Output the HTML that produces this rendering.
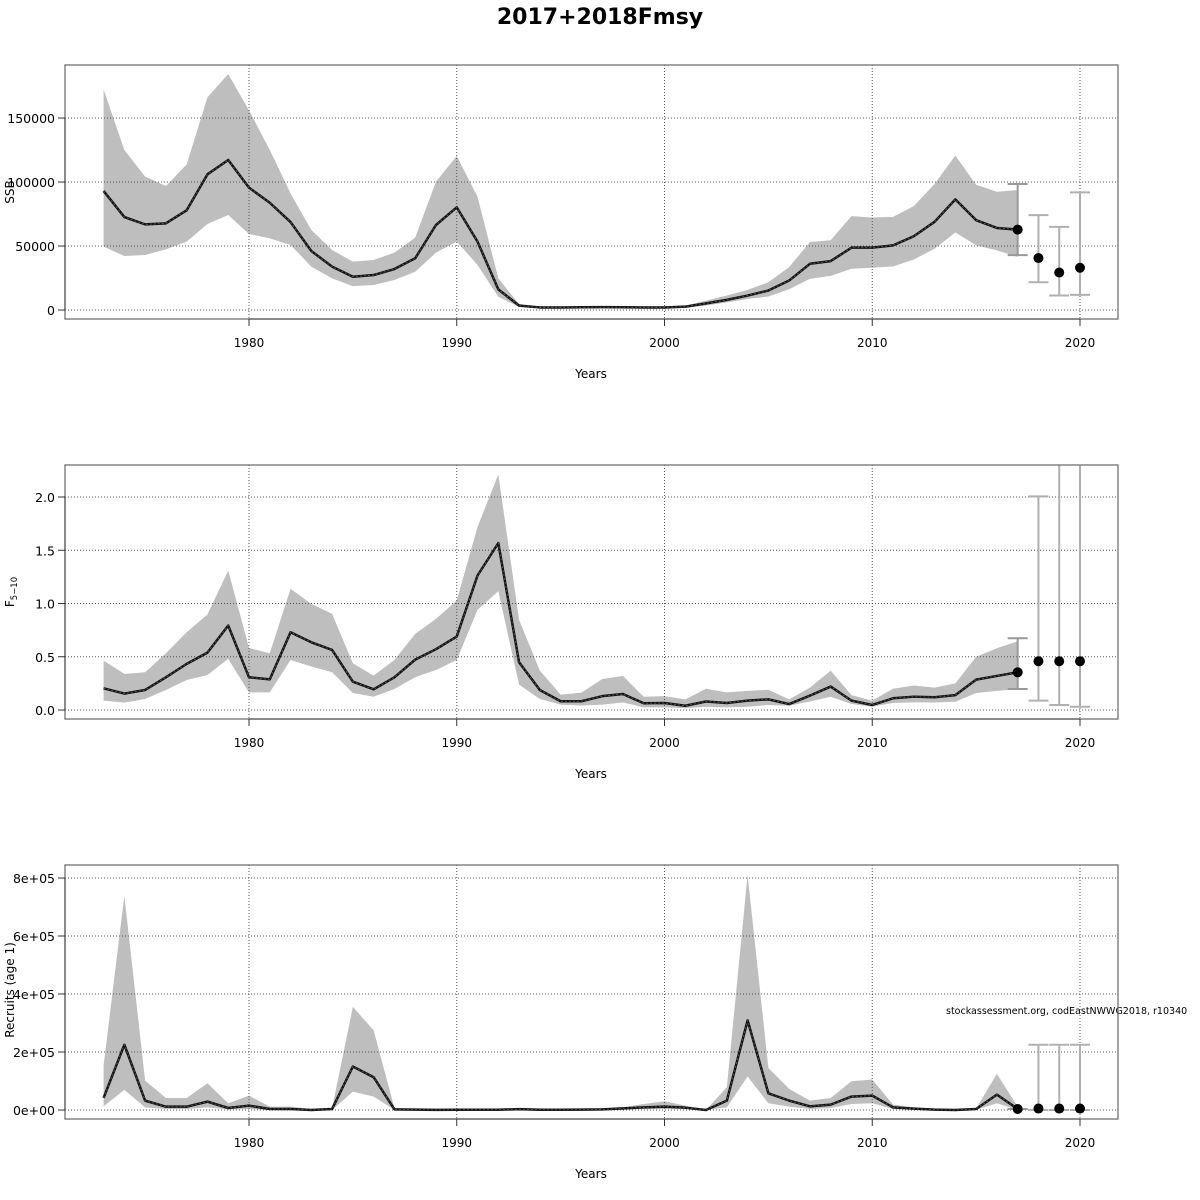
<!DOCTYPE html>
<html><head><meta charset="utf-8"><style>
html,body{margin:0;padding:0;background:#fff;}
svg{display:block;font-family:"DejaVu Sans","Liberation Sans",sans-serif;}
</style></head><body>
<svg id="chart" width="1200" height="1200" xmlns="http://www.w3.org/2000/svg">
<text x="600" y="24" text-anchor="middle" font-size="22" font-weight="bold">2017+2018Fmsy</text>
<text x="946" y="1014" font-size="9.5">stockassessment.org, codEastNWWG2018, r10340</text>
</svg>
<script>
const years = [];
for (let y = 1973; y <= 2017; y++) years.push(y);
const projYears = [2017, 2018, 2019, 2020];
const xTicks = [1980, 1990, 2000, 2010, 2020];

const ssbMean = [93000,72600,66900,67700,77900,106000,117200,95600,83800,68700,46100,33900,26000,27300,32000,40400,66400,80200,53400,16100,3400,2000,2000,2100,2200,2100,2000,2000,2600,5200,7900,11300,15200,23000,36100,38200,48700,48700,50500,57600,68900,86400,70200,64100,62800];
const ssbHigh = [172400,125000,104200,96900,113800,166100,184400,156000,125000,91100,62500,46900,37800,39100,44800,56500,100300,120300,88500,24700,4700,2800,2800,2900,3000,2900,2800,2800,3400,7300,11300,15700,21700,33500,53100,54500,73300,72300,72800,81200,98400,120700,97900,92400,93700];
const ssbLow = [49500,42200,43000,47400,53400,67200,74200,59400,56000,50800,33900,24700,18700,19500,23400,29900,44800,53400,35200,10400,2400,1400,1400,1500,1600,1500,1400,1400,1600,3400,6000,8600,10500,16200,24300,26700,32200,33000,34000,39500,47900,60500,50500,46600,41400];
const ssbProj = [62800,40600,29300,33000];
const ssbProjHigh = [98400,74100,64900,91900];
const ssbProjLow = [42900,21700,11300,11800];
const ssbTicks = [0,50000,100000,150000];

const fMean = [0.204,0.154,0.188,0.307,0.433,0.539,0.793,0.307,0.288,0.730,0.636,0.564,0.266,0.194,0.307,0.473,0.571,0.690,1.263,1.567,0.448,0.188,0.082,0.082,0.13,0.15,0.063,0.066,0.04,0.08,0.066,0.088,0.10,0.056,0.135,0.22,0.088,0.047,0.11,0.125,0.12,0.14,0.285,0.32,0.354];
const fHigh = [0.464,0.339,0.354,0.533,0.730,0.897,1.310,0.583,0.533,1.138,0.997,0.903,0.439,0.323,0.470,0.715,0.856,1.028,1.718,2.213,0.846,0.370,0.144,0.163,0.29,0.32,0.125,0.13,0.10,0.20,0.166,0.18,0.19,0.10,0.21,0.37,0.14,0.088,0.20,0.23,0.21,0.25,0.50,0.58,0.645];
const fLow = [0.088,0.069,0.103,0.188,0.282,0.329,0.480,0.166,0.166,0.470,0.408,0.354,0.160,0.125,0.197,0.307,0.376,0.470,0.940,1.116,0.238,0.103,0.050,0.041,0.05,0.07,0.025,0.025,0.016,0.03,0.025,0.03,0.047,0.04,0.08,0.125,0.056,0.03,0.066,0.072,0.07,0.078,0.16,0.18,0.197];
const fProj = [0.354,0.458,0.458,0.458];
const fProjHigh = [0.674,2.006,2.6,2.6];
const fProjLow = [0.197,0.088,0.047,0.031];
const fTicks = [0,0.5,1,1.5,2];
const fTickLabels = ["0.0","0.5","1.0","1.5","2.0"];

const recMean = [41500,225000,32300,11500,11500,28900,6900,15000,3500,3500,0,3500,150000,113000,2300,1200,500,800,1000,1000,3000,1000,800,1500,2000,5800,9200,11500,8000,0,32300,309000,57700,32300,12700,18500,46200,49600,9200,4600,1200,0,3500,53100,3500];
const recHigh = [153500,738600,101500,41500,41500,92300,23100,49600,11500,11500,3500,6900,355400,274600,6900,3500,2300,2500,3000,3000,6000,3000,2500,4000,5000,9200,20800,30000,15000,1000,78500,811000,145400,72700,32300,41500,99200,105000,18500,9200,3500,2300,5800,124600,11500];
const recLow = [12700,69200,9200,3500,3500,9200,2300,3500,0,0,0,0,63500,46200,300,200,100,200,300,300,1000,300,200,500,800,2300,3000,3500,3000,0,9200,115400,23100,11500,3500,6900,20800,23100,3000,1500,300,0,1000,23100,300];
const recProj = [3500,5000,5000,5000];
const recProjHigh = [3500,225000,225000,225000];
const recProjLow = [3500,0,0,0];
const recTicks = [0,200000,400000,600000,800000];
const recTickLabels = ["0e+00","2e+05","4e+05","6e+05","8e+05"];

const NS = "http://www.w3.org/2000/svg";
const svg = document.getElementById("chart");
function mk(tag, attrs, parent) {
  const e = document.createElementNS(NS, tag);
  for (const k in attrs) e.setAttribute(k, attrs[k]);
  (parent || svg).appendChild(e);
  return e;
}
function xScale(y) { return 249 + (y - 1980) * 20.775; }

function panel(cfg) {
  const top = cfg.top, bottom = top + 254, y0 = cfg.y0;
  const yScale = v => y0 - v * cfg.pxPerUnit;
  const g = mk("g", {});
  
  
  const clipId = "clip-" + cfg.name;
  const cp = mk("clipPath", {id: clipId}, g);
  mk("rect", {x: 65, y: top, width: 1053, height: 254}, cp);
  const yrs = cfg.years;
  let pts = [];
  yrs.forEach((yr, i) => pts.push(xScale(yr) + "," + yScale(cfg.high[i])));
  for (let i = yrs.length - 1; i >= 0; i--) pts.push(xScale(yrs[i]) + "," + yScale(cfg.low[i]));
  const band = mk("polygon", {points: pts.join(" "), fill: "#bebebe", stroke: "none", "clip-path": "url(#" + clipId + ")"}, g);
  
  
  xTicks.forEach(t => {
    const l = mk("line", {x1: xScale(t), x2: xScale(t), y1: top, y2: bottom, stroke: "#555", "stroke-width": 1, "stroke-dasharray": "1,2"}, g);
    
    
  });
  cfg.ticks.forEach(t => {
    const l = mk("line", {x1: 65, x2: 1118, y1: yScale(t), y2: yScale(t), stroke: "#555", "stroke-width": 1, "stroke-dasharray": "1,2"}, g);
    
    
  });
  const lp = yrs.map((yr, i) => xScale(yr) + "," + yScale(cfg.mean[i])).join(" ");
  const ml = mk("polyline", {points: lp, fill: "none", stroke: "#111", "stroke-width": 2.5, "stroke-linejoin": "round"}, g);
  
  
  const ml2 = mk("polyline", {points: lp, fill: "none", stroke: "#555", "stroke-width": 1, "stroke-dasharray": "2,2"}, g);
  
  
  projYears.forEach((yr, i) => {
    const x = xScale(yr);
    const eb = mk("g", {"clip-path": "url(#" + clipId + ")"}, g);
    
    
    const col = i === 0 ? "#999" : "#b0b0b0";
    mk("line", {x1: x, x2: x, y1: yScale(cfg.pHigh[i]), y2: yScale(cfg.pLow[i]), stroke: col, "stroke-width": 2}, eb);
    mk("line", {x1: x - 10, x2: x + 10, y1: yScale(cfg.pHigh[i]), y2: yScale(cfg.pHigh[i]), stroke: col, "stroke-width": 2}, eb);
    mk("line", {x1: x - 10, x2: x + 10, y1: yScale(cfg.pLow[i]), y2: yScale(cfg.pLow[i]), stroke: col, "stroke-width": 2}, eb);
    const c = mk("circle", {cx: x, cy: yScale(cfg.proj[i]), r: 5, fill: "#000"}, g);
    
    
  });
  const box = mk("rect", {x: 65, y: top, width: 1053, height: 254, fill: "none", stroke: "#666", "stroke-width": 1.2}, g);
  
  
  const xa = mk("line", {x1: xScale(1980), x2: xScale(2020), y1: bottom, y2: bottom, stroke: "#333", "stroke-width": 1}, g);
  
  
  xTicks.forEach(t => {
    mk("line", {x1: xScale(t), x2: xScale(t), y1: bottom, y2: bottom + 7, stroke: "#333"}, g);
    const tl = mk("text", {x: xScale(t), y: bottom + 28, "text-anchor": "middle", "font-size": 12}, g);
    tl.textContent = t;
    
    
  });
  const xt = mk("text", {x: 591, y: bottom + 59, "text-anchor": "middle", "font-size": 12}, g);
  xt.textContent = "Years";
  
  
  const ya = mk("line", {x1: 65, x2: 65, y1: yScale(cfg.ticks[0]), y2: yScale(cfg.ticks[cfg.ticks.length - 1]), stroke: "#333"}, g);
  
  
  cfg.ticks.forEach((t, i) => {
    mk("line", {x1: 58, x2: 65, y1: yScale(t), y2: yScale(t), stroke: "#333"}, g);
    const tl = mk("text", {x: 55, y: yScale(t) + 5, "text-anchor": "end", "font-size": 12.5}, g);
    tl.textContent = cfg.tickLabels[i];
    
    
  });
  const yt = mk("text", {x: 0, y: 0, "text-anchor": "middle", "font-size": 12, transform: "translate(14," + cfg.titleY + ") rotate(-90)"}, g);
  
  
  if (cfg.sub) {
    yt.textContent = cfg.title;
    const ts = mk("tspan", {"font-size": 8.5, dy: 3}, yt);
    ts.textContent = cfg.sub;
  } else yt.textContent = cfg.title;
}

panel({name: "ssb-panel", top: 65, y0: 310, pxPerUnit: 64 / 50000, years: years, mean: ssbMean, high: ssbHigh, low: ssbLow,
  proj: ssbProj, pHigh: ssbProjHigh, pLow: ssbProjLow, ticks: ssbTicks, tickLabels: ssbTicks.map(String), title: "SSB", titleY: 192});
panel({name: "f-panel", top: 465, y0: 710, pxPerUnit: 106.5, years: years, mean: fMean, high: fHigh, low: fLow,
  proj: fProj, pHigh: fProjHigh, pLow: fProjLow, ticks: fTicks, tickLabels: fTickLabels, title: "F", sub: "5−10", titleY: 592});
panel({name: "recruit-panel", top: 865, y0: 1110, pxPerUnit: 58 / 200000, years: years, mean: recMean, high: recHigh, low: recLow,
  proj: recProj, pHigh: recProjHigh, pLow: recProjLow, ticks: recTicks, tickLabels: recTickLabels, title: "Recruits (age 1)", titleY: 990});
</script>
</body></html>
